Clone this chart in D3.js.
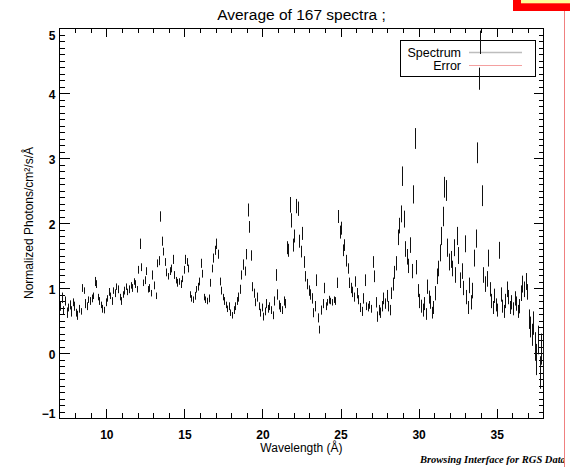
<!DOCTYPE html>
<html><head><meta charset="utf-8">
<script src="https://cdn.jsdelivr.net/npm/d3@7"></script>
<style>body{margin:0;background:#fff;overflow:hidden} svg{display:block}</style>
</head><body>
<svg id="c" width="570" height="467"></svg>
<script>
// ---------- data (0.1 Å bins starting at 7.0 Å) ----------
const binStart = 7.0;
const binWidth = 0.1;
const flux = [
 0.72,0.85,0.66,0.80,0.62,0.70,0.74,0.64,0.78,0.72,
 0.62,0.58,0.68,0.64,1.00,0.96,0.76,0.72,0.82,0.80,
 0.84,0.88,1.10,1.06,0.86,0.80,0.74,0.68,0.66,0.78,
 0.84,0.94,0.88,0.80,0.96,0.92,1.02,0.98,0.86,0.80,
 0.90,0.96,1.02,0.94,0.98,1.04,1.00,1.10,1.06,0.98,
 1.28,1.68,1.32,1.08,1.12,1.26,0.98,1.00,0.92,1.20,
 1.04,0.88,1.38,1.42,2.10,1.72,1.56,1.40,1.24,1.18,
 1.26,1.30,1.44,1.20,1.12,1.08,1.10,1.06,1.14,1.28,
 1.44,1.40,1.30,0.90,0.84,0.82,0.88,0.98,1.02,1.10,
 1.38,1.22,0.86,0.82,0.80,0.84,1.08,1.30,1.46,1.58,
 1.68,1.52,1.10,0.96,0.86,0.80,0.74,0.68,0.72,0.62,
 0.58,0.66,0.72,0.80,0.86,0.98,1.20,1.36,1.26,1.52,
 2.20,1.94,1.50,1.02,0.92,0.78,0.86,0.72,0.62,0.70,
 0.56,0.64,0.76,0.68,0.72,0.66,0.58,0.80,1.20,0.90,
 0.74,0.70,0.66,0.80,0.76,1.62,1.58,2.28,2.04,1.66,
 1.80,2.26,2.22,1.72,1.56,1.84,1.40,1.18,1.06,0.96,
 0.90,0.84,0.62,0.72,1.12,0.54,0.36,0.66,0.76,1.00,
 0.72,0.78,0.82,0.80,0.78,0.82,0.80,1.08,2.10,1.86,
 1.92,1.58,1.66,1.42,1.30,1.08,1.00,0.94,0.86,1.10,
 0.92,0.82,0.70,0.64,0.84,1.12,0.72,0.70,0.74,0.68,
 1.40,1.18,0.78,0.56,0.66,0.62,0.72,0.84,0.76,0.88,
 0.72,0.66,0.92,1.06,1.24,1.38,1.78,1.96,2.14,2.72,
 2.06,1.60,1.48,1.34,1.66,1.26,2.44,3.30,1.32,0.96,
 0.80,0.72,0.66,0.76,0.60,1.02,0.86,0.78,0.62,0.70,
 0.92,1.18,1.30,1.54,1.80,2.10,2.55,2.50,1.62,1.40,
 1.44,1.30,1.62,1.20,1.80,1.50,1.12,1.26,1.00,1.68,
 0.86,0.70,1.04,0.78,0.96,1.46,1.76,3.08,4.22,4.78,
 2.42,1.20,1.06,1.14,1.46,0.98,0.80,0.70,0.88,0.74,
 0.66,1.58,0.90,0.72,0.64,0.80,0.98,0.86,0.70,0.78,
 0.68,0.84,0.76,0.64,0.72,0.92,1.06,0.98,1.10,0.94,
 0.52,0.40,0.28,0.46,0.10,-0.10,0.20,-0.30,0.06,-0.16
];
const fluxErr = [
 0.07,0.08,0.06,0.07,0.08,0.06,0.07,0.08,0.06,0.07,
 0.06,0.07,0.06,0.05,0.06,0.05,0.07,0.06,0.05,0.06,
 0.06,0.05,0.07,0.06,0.05,0.06,0.05,0.06,0.05,0.06,
 0.05,0.06,0.05,0.06,0.05,0.06,0.05,0.06,0.05,0.06,
 0.05,0.06,0.05,0.05,0.06,0.05,0.06,0.05,0.06,0.05,
 0.06,0.08,0.06,0.05,0.06,0.06,0.05,0.06,0.05,0.07,
 0.06,0.05,0.06,0.07,0.08,0.07,0.06,0.06,0.06,0.05,
 0.06,0.06,0.07,0.06,0.05,0.06,0.05,0.06,0.05,0.06,
 0.07,0.06,0.06,0.05,0.05,0.05,0.06,0.05,0.06,0.06,
 0.07,0.06,0.05,0.05,0.05,0.06,0.06,0.06,0.07,0.07,
 0.08,0.07,0.06,0.06,0.05,0.06,0.05,0.05,0.06,0.05,
 0.05,0.06,0.06,0.06,0.07,0.07,0.07,0.08,0.07,0.08,
 0.10,0.09,0.08,0.07,0.07,0.06,0.07,0.06,0.06,0.06,
 0.06,0.06,0.07,0.06,0.06,0.06,0.06,0.07,0.09,0.08,
 0.07,0.07,0.06,0.07,0.07,0.10,0.10,0.12,0.11,0.10,
 0.10,0.11,0.11,0.10,0.09,0.10,0.09,0.08,0.08,0.08,
 0.08,0.08,0.07,0.08,0.09,0.07,0.06,0.07,0.07,0.08,
 0.06,0.05,0.06,0.05,0.05,0.05,0.06,0.08,0.10,0.10,
 0.10,0.09,0.09,0.09,0.08,0.08,0.08,0.08,0.07,0.08,
 0.08,0.07,0.07,0.07,0.08,0.09,0.06,0.06,0.06,0.06,
 0.09,0.09,0.08,0.08,0.08,0.08,0.08,0.09,0.08,0.09,
 0.08,0.08,0.09,0.10,0.10,0.11,0.12,0.12,0.13,0.15,
 0.13,0.12,0.12,0.11,0.12,0.11,0.14,0.16,0.11,0.10,
 0.11,0.10,0.10,0.10,0.09,0.11,0.10,0.10,0.09,0.10,
 0.11,0.12,0.12,0.13,0.14,0.15,0.16,0.16,0.14,0.13,
 0.13,0.12,0.13,0.12,0.14,0.13,0.12,0.12,0.11,0.13,
 0.11,0.10,0.12,0.11,0.12,0.13,0.14,0.16,0.17,0.18,
 0.16,0.12,0.12,0.12,0.13,0.11,0.11,0.10,0.11,0.10,
 0.10,0.13,0.11,0.10,0.10,0.11,0.12,0.11,0.10,0.11,
 0.10,0.11,0.11,0.10,0.11,0.12,0.13,0.12,0.13,0.12,
 0.15,0.16,0.17,0.18,0.22,0.24,0.22,0.25,0.24,0.26
];
const xTickLabels = [10, 15, 20, 25, 30, 35];
const yTickLabels = [-1, 0, 1, 2, 3, 4, 5];
const xDomain = [7, 38];
const yDomain = [-1, 5];
const titleText = "Average of 167 spectra ;";
const xTitle = "Wavelength (Å)";
const yTitle = "Normalized Photons/cm²/s/Å";
const legendItems = ["Spectrum", "Error"];
const footerText = "Browsing Interface for RGS Data";

// ---------- drawing ----------
const wavelength = flux.map((_, i) => +(binStart + binWidth * (i + 0.5)).toFixed(2));
const points = flux.map((v, i) => ({ w: wavelength[i], v: v, e: fluxErr[i] }));

const svg = d3.select("#c");
const L = 59.5, R = 543.5, T = 28, B = 418;
const x = d3.scaleLinear().domain(xDomain).range([L, R]);
const y = d3.scaleLinear().domain(yDomain).range([B, T]);
const font = "'Liberation Sans', Arial, Helvetica, sans-serif";

svg.append("rect").attr("width", 570).attr("height", 467).attr("fill", "#fff");

// title
svg.append("text").attr("x", (L + R) / 2).attr("y", 20)
  .attr("text-anchor", "middle").attr("font-family", font).attr("font-size", 15.5)
  .attr("fill", "#000").text(titleText);

// axes helpers
const xMinor = d3.range(8, 38).filter(d => d % 5 !== 0);
const yMinor = d3.range(-10, 51).map(d => d / 10).filter(d => Math.abs(d - Math.round(d)) > 1e-6);

function styleAxis(g) {
  g.select(".domain").remove();
  g.selectAll("line").attr("stroke", "#000").attr("stroke-width", 1).attr("shape-rendering", "crispEdges");
  g.selectAll("text").attr("font-family", font).attr("font-size", 12).attr("font-weight", "bold").attr("fill", "#000");
}

// bottom
svg.append("g").attr("transform", `translate(0,${B})`)
  .call(d3.axisBottom(x).tickValues(xTickLabels).tickSizeInner(-9).tickSizeOuter(0).tickPadding(12).tickFormat(d3.format("d")))
  .call(styleAxis);
svg.append("g").attr("transform", `translate(0,${B})`)
  .call(d3.axisBottom(x).tickValues(xMinor).tickSizeInner(-5).tickSizeOuter(0).tickFormat(""))
  .call(styleAxis);
// top
svg.append("g").attr("transform", `translate(0,${T})`)
  .call(d3.axisTop(x).tickValues(xTickLabels).tickSizeInner(-9).tickSizeOuter(0).tickFormat(""))
  .call(styleAxis);
svg.append("g").attr("transform", `translate(0,${T})`)
  .call(d3.axisTop(x).tickValues(xMinor).tickSizeInner(-5).tickSizeOuter(0).tickFormat(""))
  .call(styleAxis);
// left
const yl = svg.append("g").attr("transform", `translate(${L},0)`)
  .call(d3.axisLeft(y).tickValues(yTickLabels).tickSizeInner(-10).tickSizeOuter(0).tickPadding(4).tickFormat(d3.format("d")))
  .call(styleAxis);
yl.selectAll(".tick text").attr("dy", d => d === 5 ? "0.95em" : d === -1 ? "-0.05em" : "0.42em");
svg.append("g").attr("transform", `translate(${L},0)`)
  .call(d3.axisLeft(y).tickValues(yMinor).tickSizeInner(-5).tickSizeOuter(0).tickFormat(""))
  .call(styleAxis);
// right
svg.append("g").attr("transform", `translate(${R},0)`)
  .call(d3.axisRight(y).tickValues(yTickLabels).tickSizeInner(-10).tickSizeOuter(0).tickFormat(""))
  .call(styleAxis);
svg.append("g").attr("transform", `translate(${R},0)`)
  .call(d3.axisRight(y).tickValues(yMinor).tickSizeInner(-5).tickSizeOuter(0).tickFormat(""))
  .call(styleAxis);

// frame
svg.append("rect").attr("x", L).attr("y", T).attr("width", R - L).attr("height", B - T)
  .attr("fill", "none").attr("stroke", "#000").attr("stroke-width", 1).attr("shape-rendering", "crispEdges");

// axis titles
svg.append("text").attr("x", (L + R) / 2).attr("y", 452)
  .attr("text-anchor", "middle").attr("font-family", font).attr("font-size", 12).text(xTitle);
svg.append("text").attr("transform", `translate(33,${(T + B) / 2}) rotate(-90)`)
  .attr("text-anchor", "middle").attr("font-family", font).attr("font-size", 12).text(yTitle);

// legend
const lg = svg.append("g");
lg.append("rect").attr("x", 400.5).attr("y", 40.5).attr("width", 135).attr("height", 36)
  .attr("fill", "none").attr("stroke", "#000").attr("stroke-width", 1);
const legColors = ["#bdbdbd", "#f4a0a0"];
const legWidths = [1.6, 1];
legendItems.forEach((t, i) => {
  const yy = 52.5 + i * 13;
  lg.append("text").attr("x", 461).attr("y", yy + 4.2).attr("text-anchor", "end")
    .attr("font-family", font).attr("font-size", 12.5).text(t);
  lg.append("line").attr("x1", 469).attr("x2", 522).attr("y1", yy).attr("y2", yy)
    .attr("stroke", legColors[i]).attr("stroke-width", legWidths[i]);
});

// error bars
svg.append("g").selectAll("line").data(points).join("line")
  .attr("x1", d => Math.round(x(d.w)) + 0.5).attr("x2", d => Math.round(x(d.w)) + 0.5)
  .attr("y1", d => y(d.v - d.e)).attr("y2", d => y(d.v + d.e))
  .attr("stroke", "#111").attr("stroke-width", 1);

// footer
svg.append("text").attr("x", 420).attr("y", 463)
  .attr("font-family", "'Liberation Serif', 'Times New Roman', serif")
  .attr("font-style", "italic").attr("font-weight", "bold").attr("font-size", 10.5).text(footerText);

// page decoration at right
svg.append("rect").attr("x", 565).attr("y", 0).attr("width", 5).attr("height", 467).attr("fill", "#fff");
svg.append("rect").attr("x", 513).attr("y", 0).attr("width", 57).attr("height", 11).attr("fill", "#ff0000");
svg.append("rect").attr("x", 521).attr("y", 0).attr("width", 49).attr("height", 3.3).attr("fill", "#ffff99");
svg.append("line").attr("x1", 564.5).attr("x2", 564.5).attr("y1", 11).attr("y2", 467)
  .attr("stroke", "#f08080").attr("stroke-width", 1);
</script>
</body></html>
